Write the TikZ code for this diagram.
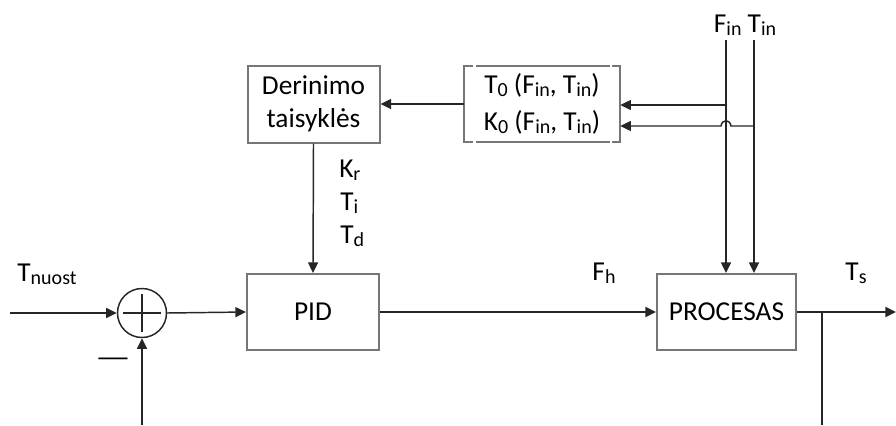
\documentclass[tikz,border=0pt]{standalone}
\usepackage{fontspec}
\setmainfont{Carlito}
\usetikzlibrary{arrows.meta}
\newcommand{\sbs}[1]{\raisebox{-0.1em}{\fontsize{15}{15}\selectfont #1}}
\tikzset{
  blk/.style={draw={rgb,255:red,118;green,118;blue,118}, line width=1.5pt, inner sep=0pt},
  lbl/.style={font=\fontsize{20.5}{24}\selectfont, inner sep=0pt},
  ln/.style={draw=black!85, line width=1.1pt},
  arr/.style={ln, -{Triangle[length=8pt,width=7.5pt]}},
}
\begin{document}
\begin{tikzpicture}[x=0.75pt,y=-0.75pt]
\useasboundingbox (0,0) rectangle (896,425);
% blocks
\node[blk, minimum width=132*0.75pt, minimum height=77*0.75pt, lbl, align=center] (der) at (313.5,104)
  {Derinimo\\[1pt]taisyklės};
\node[lbl, minimum width=156*0.75pt, minimum height=76*0.75pt, align=center] (tk) at (542,104)
  {T\sbs{0} (F\sbs{in}, T\sbs{in})\\[4pt]K\sbs{0} (F\sbs{in}, T\sbs{in})};
\node[blk, minimum width=132*0.75pt, minimum height=76*0.75pt, lbl] (pid) at (313,312) {PID};
\node[blk, minimum width=139*0.75pt, minimum height=76*0.75pt, lbl] (proc) at (726.5,312) {PROCESAS};
\node[draw=black!85, line width=1.1pt, circle, minimum size=49*0.75pt, inner sep=0pt] (sum) at (142,313) {};
% bracket-style border of the T0/K0 box
\draw[blk] ([xshift=9*0.75pt]tk.north west) -- (tk.north west) -- (tk.south west) -- ([xshift=9*0.75pt]tk.south west);
\draw[blk] ([xshift=-8*0.75pt]tk.north east) -- (tk.north east) -- (tk.south east) -- ([xshift=-8*0.75pt]tk.south east);
\draw[blk] ([xshift=12*0.75pt]tk.north west) -- ([xshift=-10*0.75pt]tk.north east);
\draw[blk] ([xshift=12*0.75pt]tk.south west) -- ([xshift=-10*0.75pt]tk.south east);
% plus inside the sum
\draw[ln, line width=0.9pt] ([xshift=-19*0.75pt]sum.center) -- ([xshift=19*0.75pt]sum.center);
\draw[ln, line width=0.9pt] ([yshift=19*0.75pt]sum.center) -- ([yshift=-19*0.75pt]sum.center);
% labels
\node[lbl] (tnuost) at (47,274) {T\sbs{nuost}};
\node[lbl] (minus) at (113,362) {\scalebox{1.45}[1]{—}};
\node[lbl, anchor=west] (kr) at (339,170) {K\sbs{r}};
\node[lbl, anchor=west] (ti) at (340,203) {T\sbs{i}};
\node[lbl, anchor=west] (td) at (340,236) {T\sbs{d}};
\node[lbl] (fh) at (604,273) {F\sbs{h}};
\node[lbl] (ts) at (856,273) {T\sbs{s}};
\node[lbl] (fintin) at (745,25) {F\sbs{in} T\sbs{in}};
% coordinates
\coordinate (inL) at (10,313);
\coordinate (fbB) at (142,425);
\coordinate (finT) at (726,40);
\coordinate (tinT) at (754,40);
\coordinate (outR) at (896,312);
\coordinate (br) at (822,312);
\coordinate (brB) at (822,425);
\coordinate (finA) at (726,105);
\coordinate (tinA) at (754,126);
% connectors
\draw[arr] (inL) -- (sum.west);
\draw[arr] (fbB) -- (sum.south);
\draw[arr] (sum.east) -- (pid.west);
\draw[arr] (pid.east) -- (proc.west |- pid.east);
\draw[arr] (der.south) -- (pid.north);
\draw[arr] (tk.west |- der.east) -- (der.east);
\draw[arr] (finT) -- (proc.north -| finT);
\draw[arr] (tinT) -- (proc.north -| tinT);
\draw[arr] (finA) -- (tk.east |- finA);
\draw[arr] (tinA) -- (731,126) .. controls (730,119) and (722,119) .. (721,126) -- (tk.east |- tinA);
\draw[arr] (proc.east |- outR) -- (outR);
\draw[ln] (br) -- (brB);
\end{tikzpicture}
\end{document}
